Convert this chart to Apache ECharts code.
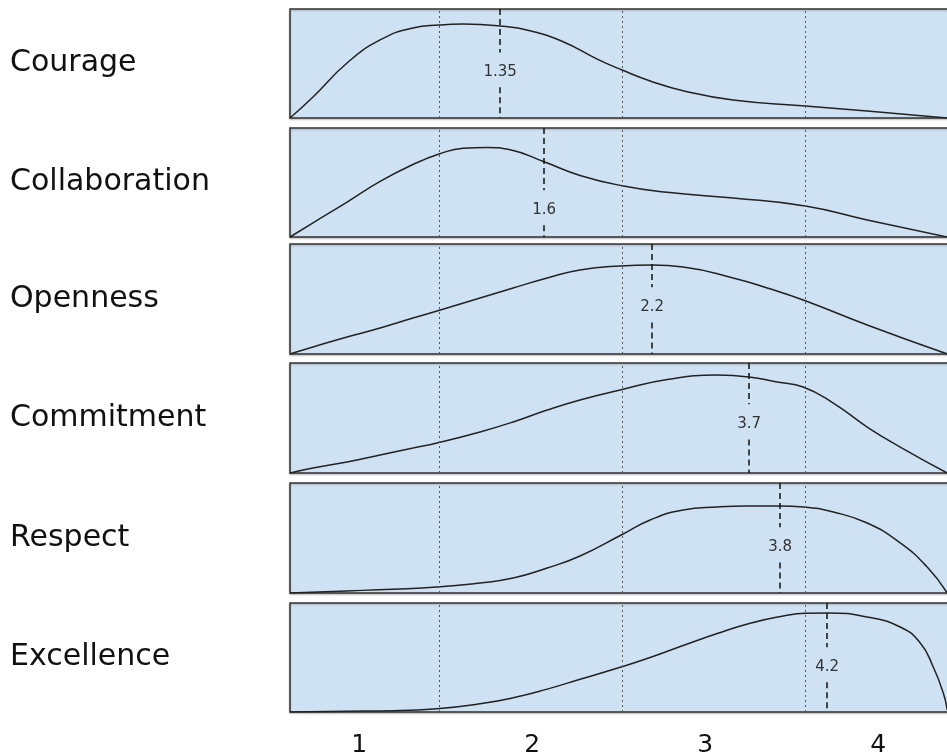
<!DOCTYPE html>
<html>
<head>
<meta charset="utf-8">
<script src="https://cdn.jsdelivr.net/npm/echarts@6/dist/echarts.min.js"></script>
<style>
html,body{margin:0;padding:0;background:#fff;}
#chart{width:947px;height:755px;}
</style>
</head>
<body>
<div id="chart"></div>
<script>
// categories and values
const names = ['Courage', 'Collaboration', 'Openness', 'Commitment', 'Respect', 'Excellence'];
const means = [1.35, 1.6, 2.2, 3.7, 3.8, 4.2];
// where the mean marker sits on the shared x scale
const meanX = [1.815, 2.069, 2.694, 3.255, 3.434, 3.706];
const xTicks = [1, 2, 3, 4];
const dividers = [1.462, 2.52, 3.579];

// density curves, [x, relative height]
const courage = [[0.6,0],[0.733,0.193],[0.93,0.505],[1.121,0.716],[1.311,0.826],[1.462,0.853],[1.601,0.862],[1.815,0.844],[1.988,0.8],[2.179,0.7],[2.376,0.54],[2.52,0.44],[2.682,0.34],[2.873,0.25],[3.162,0.165],[3.579,0.11],[3.937,0.064],[4.4,0]];
const collaboration = [[0.6,0],[0.733,0.13],[0.93,0.32],[1.121,0.51],[1.311,0.665],[1.462,0.761],[1.601,0.815],[1.739,0.822],[1.873,0.8],[2.069,0.69],[2.277,0.565],[2.52,0.47],[2.781,0.41],[3.162,0.358],[3.579,0.284],[3.937,0.156],[4.4,0]];
const openness = [[0.6,0],[0.733,0.064],[0.93,0.155],[1.121,0.236],[1.311,0.327],[1.45,0.391],[1.699,0.509],[1.89,0.6],[2.087,0.691],[2.276,0.764],[2.509,0.8],[2.694,0.809],[2.873,0.791],[3.162,0.691],[3.359,0.6],[3.567,0.491],[3.937,0.264],[4.4,0]];
const commitment = [[0.6,0],[0.733,0.045],[0.93,0.1],[1.121,0.164],[1.311,0.227],[1.45,0.273],[1.699,0.373],[1.89,0.464],[2.087,0.573],[2.277,0.664],[2.509,0.755],[2.781,0.85],[3.07,0.89],[3.255,0.873],[3.417,0.827],[3.567,0.782],[3.741,0.636],[3.937,0.418],[4.128,0.236],[4.4,0]];
const respect = [[0.6,0],[0.93,0.018],[1.45,0.055],[1.699,0.091],[1.89,0.136],[2.087,0.227],[2.277,0.336],[2.515,0.527],[2.682,0.664],[2.873,0.755],[3.07,0.782],[3.243,0.791],[3.434,0.791],[3.567,0.782],[3.741,0.736],[3.937,0.636],[4.128,0.455],[4.284,0.236],[4.4,0]];
const excellence = [[0.6,0],[0.93,0.008],[1.2,0.012],[1.45,0.03],[1.699,0.075],[1.89,0.13],[2.087,0.21],[2.277,0.3],[2.509,0.41],[2.682,0.5],[2.873,0.61],[3.07,0.72],[3.261,0.815],[3.452,0.88],[3.579,0.905],[3.706,0.908],[3.937,0.872],[4.128,0.78],[4.244,0.633],[4.319,0.413],[4.377,0.174],[4.4,0.018]];
const curves = [courage, collaboration, openness, commitment, respect, excellence];

// layout
const panelTop = [9, 128, 244, 363, 483, 603];
const panelH = [109, 109, 110, 110, 110, 109];
const labelLift = [7, 18, 16, 15, 16, 15];
const meanLabelY = [0.422, 0.248, 0.427, 0.445, 0.418, 0.413];
const font = 'DejaVu Sans';

const grids = [], xAxes = [], yAxes = [], series = [];
for (let i = 0; i < names.length; i++) {
    const last = i === names.length - 1;
    grids.push({
        left: 290, right: -2, top: panelTop[i], height: panelH[i],
        outerBoundsMode: 'none', containLabel: false,
        show: true, backgroundColor: '#cfe2f3',
        borderColor: '#333', borderWidth: 1.5,
        shadowColor: 'rgba(0,0,0,0.25)', shadowBlur: 2, shadowOffsetY: 1
    });
    xAxes.push({
        type: 'value', gridIndex: i, min: 0.6, max: 4.41,
        axisLine: {show: false}, axisTick: {show: false}, splitLine: {show: false},
        axisLabel: {
            show: last, customValues: xTicks, margin: 21,
            fontSize: 25, color: '#111', fontFamily: font
        }
    });
    yAxes.push({
        type: 'value', gridIndex: i, min: 0, max: 1,
        axisLine: {show: false}, axisTick: {show: false},
        axisLabel: {show: false}, splitLine: {show: false},
        name: names[i], nameLocation: 'middle', nameRotate: 0, nameGap: 280,
        nameTextStyle: {
            align: 'left', verticalAlign: 'middle', fontSize: 30, color: '#111',
            fontFamily: font, padding: [0, 0, labelLift[i] * 2, 0]
        }
    });
    const lo = meanLabelY[i] - 0.14, hi = meanLabelY[i] + 0.18;
    const dashed = {type: [6, 4], color: '#111', width: 1.5};
    series.push({
        type: 'line', xAxisIndex: i, yAxisIndex: i,
        data: curves[i], smooth: 0.5, symbol: 'none',
        lineStyle: {color: '#222', width: 1.5},
        markLine: {
            silent: true, symbol: 'none', label: {show: false},
            lineStyle: {type: [2, 3], color: '#555', width: 1},
            data: dividers.map(x => ({xAxis: x})).concat([
                [{coord: [meanX[i], 1], lineStyle: dashed}, {coord: [meanX[i], hi]}],
                [{coord: [meanX[i], lo], lineStyle: dashed}, {coord: [meanX[i], 0]}]
            ])
        },
        markPoint: {
            silent: true, symbol: 'rect', symbolSize: 1,
            itemStyle: {color: 'rgba(0,0,0,0)'},
            label: {show: true, position: 'inside', formatter: '{b}', fontSize: 15, color: '#333', fontFamily: font},
            data: [{name: String(means[i]), coord: [meanX[i], meanLabelY[i]]}]
        }
    });
}

const chart = echarts.init(document.getElementById('chart'));
chart.setOption({
    animation: false,
    grid: grids,
    xAxis: xAxes,
    yAxis: yAxes,
    series: series
});
</script>
</body>
</html>
